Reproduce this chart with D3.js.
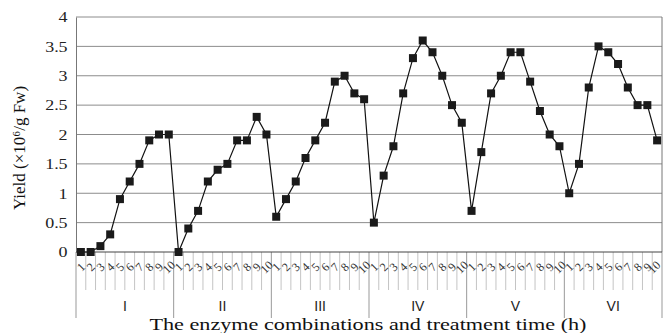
<!DOCTYPE html>
<html>
<head>
<meta charset="utf-8">
<script src="https://cdn.jsdelivr.net/npm/d3@7"></script>
<style>
body { margin: 0; background: #fff; }
</style>
</head>
<body>
<div id="chart"></div>
<script>
// enzyme combinations and treatment time (h)
var groups = [ "I", "II", "III", "IV", "V", "VI" ];
var hours = [ 1, 2, 3, 4, 5, 6, 7, 8, 9, 10 ];

// yield (x10^6 / g Fw), one list per enzyme combination
var yieldI = [ 0, 0, 0.1, 0.3, 0.9, 1.2, 1.5, 1.9, 2.0, 2.0 ];
var yieldII = [ 0, 0.4, 0.7, 1.2, 1.4, 1.5, 1.9, 1.9, 2.3, 2.0 ];
var yieldIII = [ 0.6, 0.9, 1.2, 1.6, 1.9, 2.2, 2.9, 3.0, 2.7, 2.6 ];
var yieldIV = [ 0.5, 1.3, 1.8, 2.7, 3.3, 3.6, 3.4, 3.0, 2.5, 2.2 ];
var yieldV = [ 0.7, 1.7, 2.7, 3.0, 3.4, 3.4, 2.9, 2.4, 2.0, 1.8 ];
var yieldVI = [ 1.0, 1.5, 2.8, 3.5, 3.4, 3.2, 2.8, 2.5, 2.5, 1.9 ];

var yTicks = [ 0, 0.5, 1, 1.5, 2, 2.5, 3, 3.5, 4 ];

var series = [ yieldI, yieldII, yieldIII, yieldIV, yieldV, yieldVI ];

// set the dimensions and margins of the graph
var margin = {
		top: 17,
		right: 2,
		bottom: 81,
		left: 76
	},
	width = 664 - margin.left - margin.right,
	height = 333 - margin.top - margin.bottom;

var data = [];
groups.forEach( function( g, gi ) {
	hours.forEach( function( h, hi ) {
		data.push( { group: g, hour: h, key: g + "-" + h, value: series[ gi ][ hi ] } );
	} );
} );

var x = d3.scaleBand()
	.domain( data.map( function( d ) { return d.key; } ) )
	.range( [ 0, width ] );

var y = d3.scaleLinear()
	.domain( [ 0, 4 ] )
	.range( [ height, 0 ] );

var svg = d3.select( "#chart" )
	.append( "svg" )
	.attr( "width", 664 )
	.attr( "height", 333 );

var g0 = svg.append( "g" )
	.attr( "transform", "translate(" + margin.left + "," + margin.top + ")" );

// horizontal gridlines
g0.selectAll( ".grid" )
	.data( yTicks.slice( 1 ) )
	.enter()
	.append( "line" )
	.attr( "class", "grid" )
	.attr( "x1", 0 )
	.attr( "x2", width )
	.attr( "y1", function( d ) { return y( d ); } )
	.attr( "y2", function( d ) { return y( d ); } )
	.style( "stroke", "#8c8c8c" )
	.style( "stroke-width", 1 );

// right border
g0.append( "line" )
	.attr( "x1", width ).attr( "x2", width )
	.attr( "y1", 0 ).attr( "y2", height )
	.style( "stroke", "#777" );

// category tick lines below the axis (band edges)
var edges = data.map( function( d ) { return x( d.key ); } ).concat( [ width ] );
g0.selectAll( ".xtick" )
	.data( edges )
	.enter()
	.append( "line" )
	.attr( "class", "xtick" )
	.attr( "x1", function( d ) { return d; } )
	.attr( "x2", function( d ) { return d; } )
	.attr( "y1", height )
	.attr( "y2", function( d, i ) { return i % 10 === 0 ? height + 66 : height + 38; } )
	.style( "stroke", function( d, i ) { return i % 10 === 0 ? "#999" : "#c4c4c4"; } )
	.style( "stroke-width", 1 );

// y axis
var yAxis = d3.axisLeft( y )
	.tickValues( yTicks )
	.tickFormat( function( d ) { return d; } )
	.tickSize( 0 )
	.tickPadding( 7 );

var ya = g0.append( "g" )
	.attr( "class", "y axis" )
	.call( yAxis );
ya.select( ".domain" ).style( "stroke", "#777" );
ya.selectAll( "text" )
	.style( "font-family", "'Liberation Serif', 'Times New Roman', serif" )
	.style( "font-size", "15px" )
	.style( "fill", "#222" )
	.attr( "transform", "scale(1.2,1)" );

// x axis line
g0.append( "line" )
	.attr( "x1", 0 ).attr( "x2", width )
	.attr( "y1", height ).attr( "y2", height )
	.style( "stroke", "#444" )
	.style( "stroke-width", 1.2 );

// hour labels, rotated (last one nudged in so it stays inside the page)
g0.selectAll( ".hourLabel" )
	.data( data )
	.enter()
	.append( "text" )
	.attr( "class", "hourLabel" )
	.attr( "transform", function( d, i ) {
		var cx = x( d.key ) + x.bandwidth() / 2 - ( i === data.length - 1 ? 3 : 0 );
		return "translate(" + cx + "," + ( height + 15 ) + ") rotate(-45)";
	} )
	.attr( "text-anchor", "middle" )
	.attr( "dy", "0.35em" )
	.style( "font-family", "'Liberation Serif', 'Times New Roman', serif" )
	.style( "font-size", "12px" )
	.style( "fill", "#333" )
	.text( function( d ) { return d.hour; } );

// group labels
g0.selectAll( ".groupLabel" )
	.data( groups )
	.enter()
	.append( "text" )
	.attr( "class", "groupLabel" )
	.attr( "x", function( d ) {
		return ( x( d + "-1" ) + x( d + "-10" ) + x.bandwidth() ) / 2;
	} )
	.attr( "y", height + 59 )
	.attr( "text-anchor", "middle" )
	.style( "font-family", "'Liberation Sans', Arial, sans-serif" )
	.style( "font-size", "14px" )
	.style( "fill", "#222" )
	.text( function( d ) { return d; } );

// line
var line = d3.line()
	.x( function( d ) { return x( d.key ) + x.bandwidth() / 2; } )
	.y( function( d ) { return y( d.value ); } );

g0.append( "path" )
	.datum( data )
	.attr( "d", line )
	.style( "fill", "none" )
	.style( "stroke", "#111" )
	.style( "stroke-width", 1.2 );

// square markers
var ms = 8;
g0.selectAll( ".marker" )
	.data( data )
	.enter()
	.append( "rect" )
	.attr( "class", "marker" )
	.attr( "x", function( d ) { return x( d.key ) + x.bandwidth() / 2 - ms / 2; } )
	.attr( "y", function( d ) { return y( d.value ) - ms / 2; } )
	.attr( "width", ms )
	.attr( "height", ms )
	.style( "fill", "#1a1a1a" );

// axis titles
svg.append( "text" )
	.attr( "x", 368 )
	.attr( "y", 330 )
	.attr( "text-anchor", "middle" )
	.attr( "textLength", 437 )
	.attr( "lengthAdjust", "spacingAndGlyphs" )
	.style( "font-family", "'Liberation Serif', 'Times New Roman', serif" )
	.style( "font-size", "16px" )
	.style( "fill", "#111" )
	.text( "The enzyme combinations and treatment time (h)" );

svg.append( "text" )
	.attr( "transform", "translate(25,148) rotate(-90)" )
	.attr( "text-anchor", "middle" )
	.style( "font-family", "'Liberation Serif', 'Times New Roman', serif" )
	.style( "font-size", "17px" )
	.style( "fill", "#111" )
	.text( "Yield (×10⁶/g Fw)" );
</script>
</body>
</html>
